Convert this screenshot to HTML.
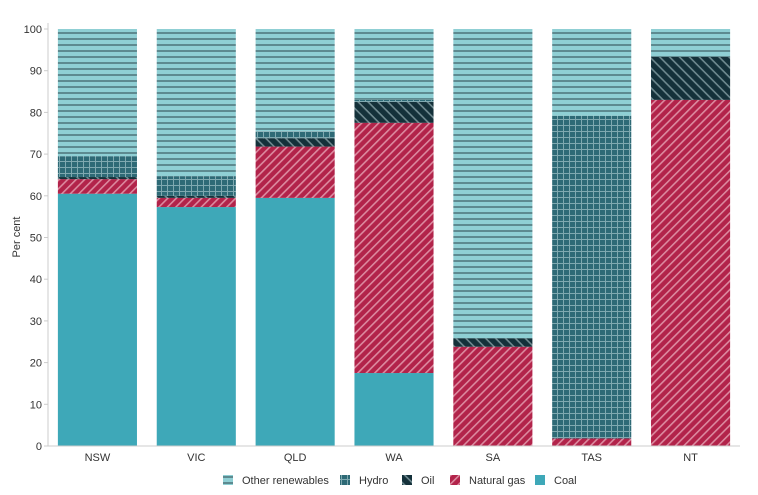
<!DOCTYPE html>
<html><head><meta charset="utf-8"><style>
body{margin:0;background:#fff;}
svg{display:block;font-family:"Liberation Sans",sans-serif;}
</style></head><body>
<svg id="chart" width="758" height="495" viewBox="0 0 758 495">
<defs>
<pattern id="p-other" patternUnits="userSpaceOnUse" width="8" height="6"><rect width="8" height="6" fill="#8fcfd4"/><rect y="2" width="8" height="2" fill="#5d8a90"/></pattern>
<pattern id="p-hydro" patternUnits="userSpaceOnUse" width="6" height="6"><rect width="6" height="6" fill="#2e6a76"/><rect x="5" width="1" height="6" fill="#7fa9b0"/><rect y="5" width="6" height="1" fill="#7fa9b0"/></pattern>
<pattern id="p-oil" patternUnits="userSpaceOnUse" width="7" height="7" patternTransform="rotate(45)"><rect width="7" height="7" fill="#14313a"/><rect width="7" height="1.6" fill="#6f8a90"/></pattern>
<pattern id="p-gas" patternUnits="userSpaceOnUse" width="6" height="6" patternTransform="rotate(-45)"><rect width="6" height="6" fill="#b2234a"/><rect width="6" height="1.6" fill="#dc8aa0"/></pattern>
</defs>
<g id="grid"></g><g id="bars"></g><g id="axes"></g><g id="legend"></g>
</svg>
<script>
const categories=["NSW","VIC","QLD","WA","SA","TAS","NT"];
const coal=[60.5,57.3,59.5,17.5,0,0,0];
const naturalGas=[3.5,2.2,12.3,60,23.8,1.8,83];
const oil=[0.5,0.5,2,5,2,0,10.3];
const hydro=[5,4.7,1.7,0.5,0,77.4,0];
const otherRenewables=[30.5,35.3,24.5,17,74.2,20.8,6.7];
const yTicks=[0,10,20,30,40,50,60,70,80,90,100];
const seriesNames=["Coal","Natural gas","Oil","Hydro","Other renewables"];
const seriesKeys=["coal","natural-gas","oil","hydro","other-renewables"];
const series=[coal,naturalGas,oil,hydro,otherRenewables];
const fills=["#3ea8b8","url(#p-gas)","url(#p-oil)","url(#p-hydro)","url(#p-other)"];
const NS="http://www.w3.org/2000/svg";
const x0=48,x1=740,yBase=446,yTop=29;
const y=v=>yBase-(v/100)*(yBase-yTop);
const band=(x1-x0)/categories.length;
const bw=band*0.8;
const xb=i=>x0+i*band+(band-bw)/2;
function mk(t,a,p){const e=document.createElementNS(NS,t);for(const k in a)e.setAttribute(k,a[k]);p.appendChild(e);return e;}
const bars=document.getElementById('bars'),axes=document.getElementById('axes'),legend=document.getElementById('legend');
categories.forEach((c,i)=>{let acc=0;
 series.forEach((s,j)=>{const v=s[i];if(v<=0)return;
  const r=mk('rect',{x:xb(i),y:y(acc+v),width:bw,height:y(acc)-y(acc+v),fill:fills[j]},bars);
  
  
  acc+=v;});
 const t=mk('text',{x:xb(i)+bw/2,y:461,'text-anchor':'middle','font-size':11,fill:'#333'},axes);t.textContent=c;
 
 
});
const yl=mk('line',{x1:x0,x2:x0,y1:yTop-6,y2:yBase,stroke:'#ccc'},axes);


const xl=mk('line',{x1:x0,x2:x1,y1:yBase,y2:yBase,stroke:'#ccc'},axes);


yTicks.forEach(v=>{mk('line',{x1:x0-4,x2:x0,y1:y(v),y2:y(v),stroke:'#ccc'},axes);
 const t=mk('text',{x:42,y:y(v)+4,'text-anchor':'end','font-size':11,fill:'#333'},axes);t.textContent=v;
 
 });
const yt=mk('text',{x:20,y:237,'text-anchor':'middle','font-size':11,fill:'#333',transform:'rotate(-90 20 237)'},axes);yt.textContent='Per cent';


const order=[4,3,2,1,0];const lx=[223,340,402,450,535];
order.forEach((j,k)=>{const g=mk('g',{},legend);
 
 
 mk('rect',{x:lx[k],y:475,width:10,height:10,fill:fills[j]},g);
 const t=mk('text',{x:lx[k]+19,y:484,'font-size':11,fill:'#333'},g);t.textContent=seriesNames[j];});
</script>
</body></html>
